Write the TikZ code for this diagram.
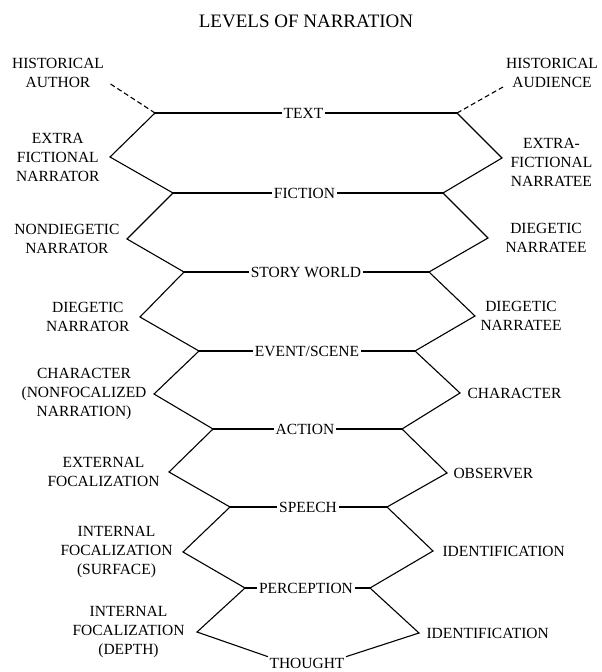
\documentclass[tikz,border=0pt]{standalone}
\usepackage{fontspec}
\setmainfont{Liberation Serif}
\usetikzlibrary{calc,positioning}

\begin{document}
\begin{tikzpicture}[x=1pt,y=-1pt,line width=1.1pt,node distance=6pt,
    level/.style={inner sep=1.5pt,font=\fontsize{15.5}{19}\selectfont},
    side/.style={inner sep=1pt,align=center,font=\fontsize{15.5}{19}\selectfont},
    hist/.style={dash pattern=on 5pt off 3pt}]

    \useasboundingbox (0,0) rectangle (602,672);

    \node[font=\fontsize{19}{22}\selectfont] (title) at (306,21) {LEVELS OF NARRATION};

    % ends of the levels
    \coordinate (L-0) at (155,113);   \coordinate (R-0) at (457,113);
    \coordinate (L-1) at (173,193);   \coordinate (R-1) at (443,193);
    \coordinate (L-2) at (184,272);   \coordinate (R-2) at (429,272);
    \coordinate (L-3) at (199,351);   \coordinate (R-3) at (415,351);
    \coordinate (L-4) at (213,429);   \coordinate (R-4) at (402,429);
    \coordinate (L-5) at (230,507);   \coordinate (R-5) at (387,507);
    \coordinate (L-6) at (245,588);   \coordinate (R-6) at (370,588);

    % bends between the levels
    \coordinate (vl-1) at (110,157);  \coordinate (vr-1) at (502,158);
    \coordinate (vl-2) at (127,239);  \coordinate (vr-2) at (488,238);
    \coordinate (vl-3) at (140,317);  \coordinate (vr-3) at (475,316);
    \coordinate (vl-4) at (154,394);  \coordinate (vr-4) at (460,393);
    \coordinate (vl-5) at (169,472);  \coordinate (vr-5) at (447,473);
    \coordinate (vl-6) at (183,552);  \coordinate (vr-6) at (433,551);
    \coordinate (vl-7) at (197,632);  \coordinate (vr-7) at (419,633);

    \coordinate (author-end) at (109,83);
    \coordinate (audience-end) at (503,87);

    % levels
    \node[level] (lvl-0) at (303.5,113) {TEXT};
    \node[level] (lvl-1) at (304.5,193) {FICTION};
    \node[level] (lvl-2) at (306,272)   {STORY WORLD};
    \node[level] (lvl-3) at (307,351)   {EVENT/SCENE};
    \node[level] (lvl-4) at (305,429)   {ACTION};
    \node[level] (lvl-5) at (308,507)   {SPEECH};
    \node[level] (lvl-6) at (306,588)   {PERCEPTION};
    \node[level,inner sep=1pt,anchor=base] (lvl-7) at (307,668.5) {THOUGHT};

    % tellers
    \node[side] (author) at (58,72.5) {HISTORICAL\\AUTHOR};
    \node[side] (extra-narrator) [left=9pt of vl-1] {EXTRA\\FICTIONAL\\NARRATOR};
    \node[side] (nondiegetic-narrator) [left=6pt of vl-2] {NONDIEGETIC\\NARRATOR};
    \node[side] (diegetic-narrator) [left=9pt of vl-3] {DIEGETIC\\NARRATOR};
    \node[side] (character-left) [left=6pt of vl-4] {CHARACTER\\(NONFOCALIZED\\NARRATION)};
    \node[side] (external) [left=8pt of vl-5] {EXTERNAL\\FOCALIZATION};
    \node[side] (surface) [left=9pt of vl-6] {INTERNAL\\FOCALIZATION\\(SURFACE)};
    \node[side] (depth) [left=11pt of vl-7] {INTERNAL\\FOCALIZATION\\(DEPTH)};

    % receivers
    \node[side] (audience) at (552,72.5) {HISTORICAL\\AUDIENCE};
    \node[side,yshift=-4pt] (extra-narratee) [right=7pt of vr-1] {EXTRA-\\FICTIONAL\\NARRATEE};
    \node[side] (diegetic-narratee-1) [right=16pt of vr-2] {DIEGETIC\\NARRATEE};
    \node[side] (diegetic-narratee-2) [right=4pt of vr-3] {DIEGETIC\\NARRATEE};
    \node[side] (character-right) [right=6pt of vr-4] {CHARACTER};
    \node[side] (observer) [right=5pt of vr-5] {OBSERVER};
    \node[side] (identification-1) [right=8pt of vr-6] {IDENTIFICATION};
    \node[side] (identification-2) [right=6pt of vr-7] {IDENTIFICATION};

    % horizontal levels
    \draw (L-0) -- (lvl-0) -- (R-0);
    \draw (L-1) -- (lvl-1) -- (R-1);
    \draw (L-2) -- (lvl-2) -- (R-2);
    \draw (L-3) -- (lvl-3) -- (R-3);
    \draw (L-4) -- (lvl-4) -- (R-4);
    \draw (L-5) -- (lvl-5) -- (R-5);
    \draw (L-6) -- (lvl-6) -- (R-6);

    % left side
    \draw (L-0) -- (vl-1) -- (L-1) -- (vl-2) -- (L-2) -- (vl-3) -- (L-3)
          -- (vl-4) -- (L-4) -- (vl-5) -- (L-5) -- (vl-6) -- (L-6) -- (vl-7)
          -- (lvl-7.north west);
    % right side
    \draw (R-0) -- (vr-1) -- (R-1) -- (vr-2) -- (R-2) -- (vr-3) -- (R-3)
          -- (vr-4) -- (R-4) -- (vr-5) -- (R-5) -- (vr-6) -- (R-6) -- (vr-7)
          -- (lvl-7.north east);

    % historical
    \draw[hist] (L-0) -- (author-end);
    \draw[hist] (R-0) -- (audience-end);

\end{tikzpicture}
\end{document}
